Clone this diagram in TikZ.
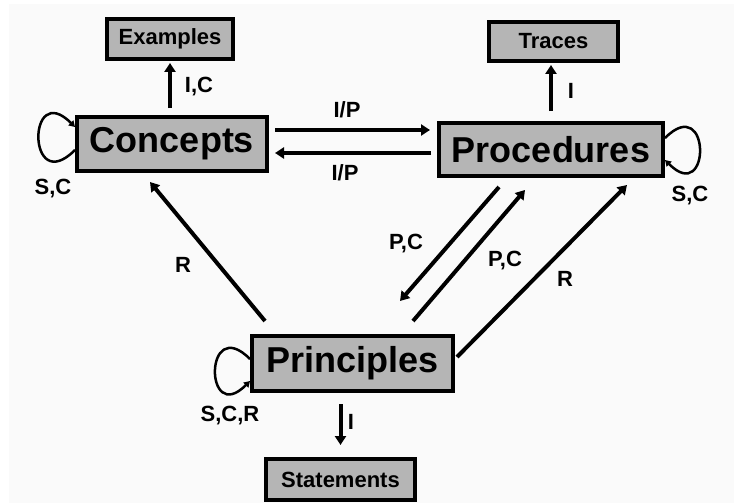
\documentclass[tikz,border=0pt]{standalone}
\usepackage{fontspec}
\setmainfont{Liberation Sans}
\usetikzlibrary{arrows.meta, positioning}
\definecolor{boxgray}{RGB}{181,181,181}
\definecolor{bggray}{RGB}{250,250,250}

\begin{document}
\begin{tikzpicture}[x=1pt, y=1pt,
    box/.style={draw, line width=4pt, fill=boxgray, inner sep=0pt},
    bigbox/.style={box, font=\bfseries\fontsize{36}{40}\selectfont},
    smallbox/.style={box, font=\bfseries\fontsize{22}{26}\selectfont},
    lbl/.style={font=\bfseries\fontsize{22}{26}\selectfont, inner sep=0pt},
    arr/.style={line width=4pt, -{Triangle[length=9pt, width=11pt]}},
    selfloop/.style={line width=2.5pt, -{Triangle[length=6pt, width=7pt]}}]
    \fill[white] (0,0) rectangle (734,-503);
    \fill[bggray] (9,-4) rectangle (734,-503);

    % boxes
    \node[smallbox, minimum width=126pt, minimum height=40pt] (ex) at (170,-39) {Examples};
    \node[bigbox, minimum width=190pt, minimum height=54pt] (cn) at (172,-144) {Concepts};
    \node[smallbox, minimum width=129pt, minimum height=39pt] (tr) at (553.5,-41.5) {Traces};
    \node[bigbox, minimum width=224pt, minimum height=53pt] (pr) at (551,-149.5) {Procedures};
    \node[bigbox, minimum width=201pt, minimum height=55pt] (pl) at (352.5,-363.5) {Principles};
    \node[smallbox, minimum width=149pt, minimum height=41pt] (st) at (340.5,-479.5) {Statements};

    % labels
    \node[lbl] (lic) at (199,-87) {I,C};
    \node[lbl] (ltr) at (571,-91) {I};
    \node[lbl] (lipa) at (347,-110) {I/P};
    \node[lbl] (lipb) at (345,-173) {I/P};
    \node[lbl] (lscc) at (53,-189) {S,C};
    \node[lbl] (lscp) at (690,-196) {S,C};
    \node[lbl] (lrc) at (183,-265) {R};
    \node[lbl] (lpca) at (406,-244) {P,C};
    \node[lbl] (lpcb) at (505,-261) {P,C};
    \node[lbl] (lrp) at (565,-279) {R};
    \node[lbl] (lscr) at (230,-416) {S,C,R};
    \node[lbl] (lst) at (351,-422) {I};

    % straight arrows
    \draw[arr, shorten <=7pt, shorten >=2pt] (cn.north -| ex.south) -- (ex.south);
    \draw[arr, shorten <=10pt, shorten >=2pt] (pr.north) -- (pr.north |- tr.south);
    \draw[arr, shorten <=11pt, shorten >=12pt] (st.north |- pl.south) -- (st.north);
    \draw[arr, shorten <=6pt, shorten >=7pt] ([yshift=14pt]cn.east) -- ([yshift=14pt]cn.east -| pr.west);
    \draw[arr, shorten <=6pt, shorten >=6pt] ([yshift=-3.5pt]pr.west) -- ([yshift=-3.5pt]pr.west -| cn.east);
    \draw[arr] ([xshift=15pt, yshift=13pt]pl.north west) -- ([xshift=-22pt, yshift=-9pt]cn.south);
    \draw[arr] ([xshift=-52pt, yshift=-9pt]pr.south) -- ([xshift=47.5pt, yshift=33pt]pl.north);
    \draw[arr] ([xshift=60.5pt, yshift=13pt]pl.north) -- ([xshift=-26pt, yshift=-12pt]pr.south);
    \draw[arr] ([xshift=2pt, yshift=6.5pt]pl.east) -- ([xshift=76pt, yshift=-7pt]pr.south);

    % self loops
    \draw[selfloop] ([yshift=-6pt]cn.west) to[out=225, in=135, looseness=7.6] ([yshift=17pt]cn.west);
    \draw[selfloop] ([yshift=11.5pt]pr.east) to[out=45, in=-45, looseness=7.6] ([yshift=-10.5pt]pr.east);
    \draw[selfloop] ([yshift=4.5pt]pl.west) to[out=135, in=225, looseness=7.6] ([yshift=-17.5pt]pl.west);
\end{tikzpicture}
\end{document}
